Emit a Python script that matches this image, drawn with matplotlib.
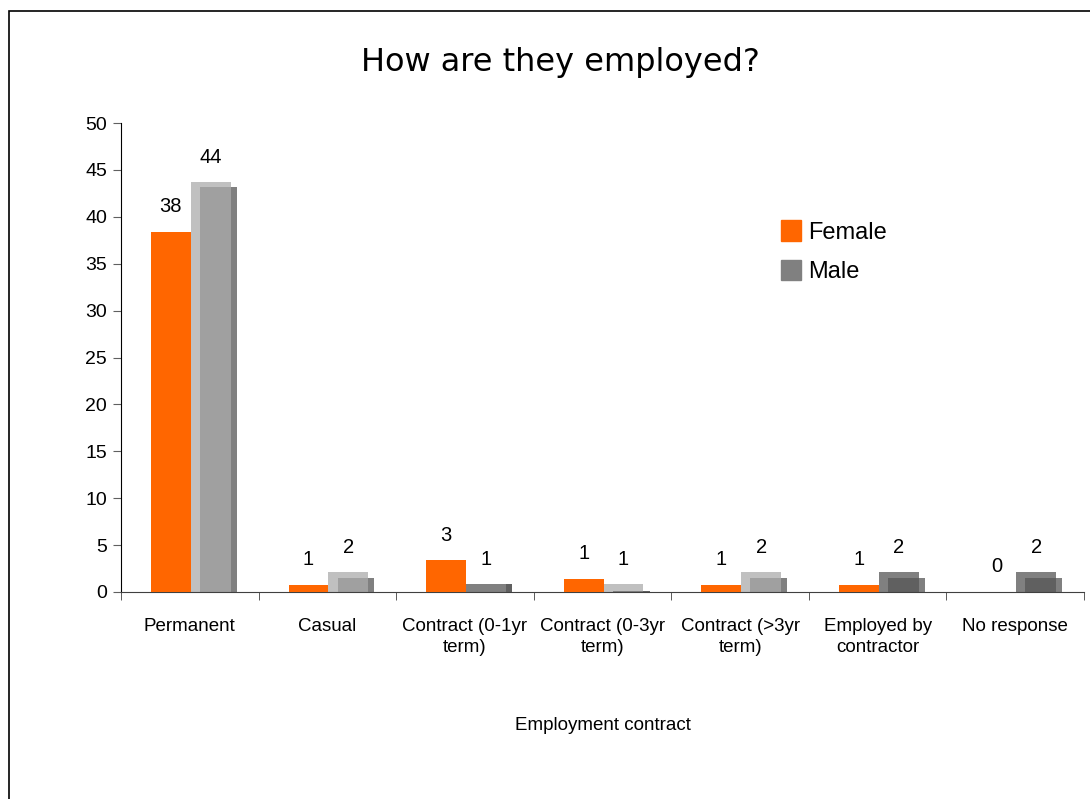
import numpy as np
import matplotlib
matplotlib.use("Agg")
import matplotlib.pyplot as plt
from matplotlib.patches import Rectangle

categories = ["Permanent", "Casual", "Contract (0-1yr\nterm)", "Contract (0-3yr\nterm)",
              "Contract (>3yr\nterm)", "Employed by\ncontractor", "No response"]
female_labels = [38, 1, 3, 1, 1, 1, 0]
female_height = [38.4, 0.75, 3.4, 1.4, 0.75, 0.75, 0.0]
male_labels = [44, 2, 1, 1, 2, 2, 2]
male_back = [43.7, 2.1, 0.85, 0.85, 2.1, 2.1, 2.1]
male_front = [43.2, 1.5, 0.85, 0.15, 1.5, 1.5, 1.5]

plt.rcParams['font.family'] = ['Liberation Sans', 'DejaVu Sans']

fig = plt.figure(figsize=(10.9, 7.99), dpi=100)
W, H = 1090, 799
ax = fig.add_axes([121 / W, (H - 592) / H, 963 / W, 469 / H])

# outer chart border (runs off the right and bottom edges)
fig.patches.append(Rectangle((9 / W, -0.05), 1.2, (H - 11) / H + 0.05, transform=fig.transFigure,
                             fill=False, edgecolor="black", linewidth=1.2))

x = np.arange(len(categories))
orange = "#FF6600"
back_cols = ["#C0C0C0", "#C0C0C0", "#808080", "#C0C0C0", "#C0C0C0", "#808080", "#808080"]
front_cols = ["#A0A0A0", "#A0A0A0", "#808080", "#808080", "#A0A0A0", "#606060", "#606060"]
strip_cols = ["#808080", "#808080", "#606060", "#606060", "#808080", "#808080", "#808080"]

bw = 0.29
off = 0.044
ax.bar(x - 0.137, female_height, width=bw, color=orange, zorder=3, label="Female")
ax.bar(x + 0.153, male_back, width=bw, color=back_cols, zorder=2)
ax.bar(x + 0.153 + off, male_front, width=bw - off, color=front_cols, zorder=2.5)
ax.bar(x + 0.153 + bw / 2 + off / 2, male_front, width=off, color=strip_cols, zorder=2.5)

for i in range(len(categories)):
    ax.annotate(str(female_labels[i]), (x[i] - 0.137, female_height[i]), xytext=(0, 18),
                textcoords="offset points", ha="center", va="center", fontsize=14.5)
    ax.annotate(str(male_labels[i]), (x[i] + 0.153, male_back[i]), xytext=(0, 18),
                textcoords="offset points", ha="center", va="center", fontsize=14.5)

ax.set_xlim(-0.5, len(categories) - 0.5)
ax.set_ylim(0, 50)
ax.set_yticks(range(0, 51, 5))
ax.set_xticks(x)
ax.set_xticklabels(categories, fontsize=13.5, linespacing=1.3)
ax.set_xticks(np.arange(-0.5, len(categories)), minor=True)
ax.tick_params(axis="x", which="major", length=0, pad=19)
ax.tick_params(axis="x", which="minor", length=6, direction="out", color="#404040")
ax.tick_params(axis="y", length=6, direction="out", color="#606060", labelsize=14, pad=4)
for s in ["top", "right"]:
    ax.spines[s].set_visible(False)
ax.spines["left"].set_color("black")
ax.spines["bottom"].set_color("#404040")

ax.set_xlabel("Employment contract", fontsize=13.5, labelpad=44)
fig.text(560 / W, 1 - 63 / H, "How are they employed?", ha="center", va="center",
         fontsize=23, family="DejaVu Sans")

handles = [Rectangle((0, 0), 1, 1, color=orange), Rectangle((0, 0), 1, 1, color="#808080")]
fig.legend(handles, ["Female", "Male"], loc="upper left", bbox_to_anchor=(760 / W, 1 - 199 / H),
           frameon=False, fontsize=17, handlelength=0.85, handleheight=0.95, handletextpad=0.3,
           labelspacing=0.7)

fig.savefig("out.png", dpi=100)
